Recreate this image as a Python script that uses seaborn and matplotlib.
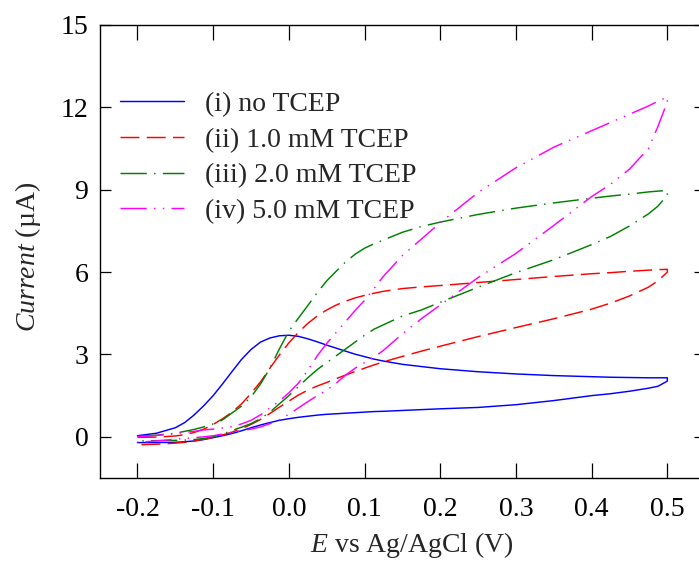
import numpy as np
import pandas as pd
import matplotlib
matplotlib.use("Agg")
import matplotlib.pyplot as plt
import seaborn as sns

# Potential grid (V vs Ag/AgCl) shared by both sweep directions
E_grid = [-0.2, -0.175, -0.15, -0.1375, -0.125, -0.1125, -0.1, -0.0875, -0.075,
          -0.0625, -0.05, -0.0375, -0.025, -0.0125, 0.0, 0.0125, 0.025, 0.0375,
          0.05, 0.0625, 0.075, 0.0875, 0.1, 0.1125, 0.125, 0.15, 0.175, 0.2,
          0.25, 0.3, 0.35, 0.4, 0.425, 0.45, 0.475, 0.4875, 0.5]

labels = ["(i) no TCEP", "(ii) 1.0 mM TCEP", "(iii) 2.0 mM TCEP", "(iv) 5.0 mM TCEP"]

# Anodic (forward) sweep currents in µA, one value per E_grid point
fwd_i = [0.04, 0.13, 0.33, 0.52, 0.8, 1.13, 1.5, 1.93, 2.38,
         2.82, 3.18, 3.45, 3.6, 3.68, 3.7, 3.66, 3.57, 3.46,
         3.34, 3.23, 3.12, 3.01, 2.92, 2.83, 2.76, 2.64, 2.56, 2.48,
         2.37, 2.29, 2.23, 2.19, 2.17, 2.16, 2.15, 2.15, 2.15]
fwd_ii = [-0.02, -0.01, 0.03, 0.08, 0.16, 0.28, 0.45, 0.66, 0.9,
          1.2, 1.58, 2.0, 2.5, 2.98, 3.42, 3.8, 4.13, 4.4,
          4.62, 4.8, 4.94, 5.06, 5.15, 5.23, 5.3, 5.4, 5.46, 5.51,
          5.62, 5.73, 5.84, 5.94, 5.98, 6.03, 6.07, 6.09, 6.1]
fwd_iii = [0.02, 0.06, 0.13, 0.2, 0.27, 0.36, 0.47, 0.62, 0.87,
           1.12, 1.45, 1.92, 2.5, 3.2, 3.85, 4.32, 4.78, 5.25,
           5.68, 6.03, 6.37, 6.65, 6.87, 7.03, 7.17, 7.45, 7.66, 7.82,
           8.1, 8.33, 8.52, 8.69, 8.77, 8.84, 8.92, 8.95, 8.97]
fwd_iv = [0.0, 0.05, 0.12, 0.16, 0.2, 0.25, 0.28, 0.32, 0.37,
          0.47, 0.6, 0.8, 1.05, 1.3, 1.6, 1.95, 2.42, 2.95,
          3.4, 3.8, 4.2, 4.6, 4.97, 5.4, 5.85, 6.6, 7.2, 7.8,
          8.9, 9.8, 10.55, 11.15, 11.45, 11.75, 12.05, 12.22, 12.38]

# Cathodic (reverse) sweep currents in µA, listed from -0.2 V upward
rev_i = [-0.21, -0.21, -0.2, -0.18, -0.15, -0.1, -0.03, 0.04, 0.12,
         0.22, 0.33, 0.43, 0.52, 0.6, 0.66, 0.71, 0.75, 0.79,
         0.82, 0.84, 0.86, 0.88, 0.9, 0.92, 0.93, 0.96, 0.99, 1.02,
         1.07, 1.17, 1.32, 1.5, 1.57, 1.66, 1.77, 1.84, 2.03]
rev_ii = [-0.29, -0.27, -0.23, -0.2, -0.15, -0.09, -0.02, 0.07, 0.17,
          0.3, 0.45, 0.63, 0.85, 1.08, 1.3, 1.52, 1.7, 1.85,
          1.98, 2.12, 2.25, 2.38, 2.5, 2.62, 2.73, 2.93, 3.12, 3.3,
          3.65, 3.98, 4.3, 4.65, 4.87, 5.13, 5.45, 5.68, 6.0]
rev_iii = [-0.15, -0.14, -0.13, -0.12, -0.1, -0.06, 0.0, 0.1, 0.23,
           0.35, 0.48, 0.66, 0.9, 1.2, 1.5, 1.82, 2.15, 2.45,
           2.7, 2.95, 3.2, 3.45, 3.7, 3.92, 4.08, 4.4, 4.62, 4.9,
           5.45, 5.98, 6.45, 7.0, 7.3, 7.68, 8.12, 8.4, 8.8]
rev_iv = [-0.2, -0.15, -0.09, -0.06, -0.03, 0.0, 0.04, 0.1, 0.17,
          0.23, 0.28, 0.36, 0.48, 0.62, 0.82, 1.05, 1.28, 1.5,
          1.7, 1.95, 2.25, 2.5, 2.7, 2.9, 3.15, 3.75, 4.3, 4.8,
          5.8, 6.68, 7.7, 8.75, 9.2, 9.75, 10.5, 11.3, 12.2]

forward = [fwd_i, fwd_ii, fwd_iii, fwd_iv]
reverse = [rev_i, rev_ii, rev_iii, rev_iv]

# One closed voltammogram per concentration: forward sweep, then back to -0.2 V
frames = []
for lab, f, r in zip(labels, forward, reverse):
    E = list(E_grid) + list(E_grid[::-1])
    I = list(f) + list(r[::-1])
    frames.append(pd.DataFrame({"E": E, "I": I, "label": lab}))
df = pd.concat(frames, ignore_index=True)

sns.set_theme(style="ticks")
plt.rcParams["font.family"] = ["Liberation Serif", "DejaVu Serif"]
plt.rcParams["mathtext.fontset"] = "custom"
plt.rcParams["mathtext.rm"] = "Liberation Serif"
plt.rcParams["mathtext.it"] = "Liberation Serif:italic"

FS = 20

fig = plt.figure(figsize=(6.99, 5.70), dpi=100)
ax = fig.add_axes([99.6 / 699, 1 - 478 / 570, 605.6 / 699, 453 / 570])

palette = {labels[0]: "#0000ff", labels[1]: "#ff0000",
           labels[2]: "#008000", labels[3]: "#ff00ff"}
dashes = {labels[0]: "",
          labels[1]: (13, 5),
          labels[2]: (18, 5, 1, 5),
          labels[3]: (18, 5, 1, 5, 1, 5)}

sns.lineplot(data=df, x="E", y="I", hue="label", style="label",
             hue_order=labels, style_order=labels, palette=palette,
             dashes=dashes, sort=False, estimator=None, units="label",
             linewidth=1.05, ax=ax)

ax.set_xlim(-0.25, 0.55)
ax.set_ylim(-1.5, 15)
ax.set_xticks([-0.2, -0.1, 0.0, 0.1, 0.2, 0.3, 0.4, 0.5])
ax.set_xticklabels(["-0.2", "-0.1", "0.0", "0.1", "0.2", "0.3", "0.4", "0.5"])
ax.set_yticks([0, 3, 6, 9, 12, 15])

ax.tick_params(axis="x", direction="in", top=True, bottom=True, length=11,
               width=0.9, labelsize=FS, pad=13.5, colors="black")
ax.tick_params(axis="y", direction="in", left=True, right=True, length=8,
               width=0.9, labelsize=FS, pad=8, colors="black")
for s in ax.spines.values():
    s.set_linewidth(1.0)
    s.set_color("black")

ax.set_xlabel(r"$E$ vs Ag/AgCl (V)", fontsize=FS)
ax.set_ylabel(r"$Current$ (µA)", fontsize=FS)
ax.xaxis.set_label_coords((412 - 99.6) / 605.6, (478 - 545) / 453)
ax.yaxis.set_label_coords((28 - 99.6) / 605.6, (478 - 257) / 453)
ax.xaxis.label.set_va("center")
ax.yaxis.label.set_va("center")

sns.move_legend(ax, loc="upper left", bbox_to_anchor=((120 - 99.6) / 605.6, (478 - 91.5) / 453),
                frameon=False, title=None, fontsize=FS, handlelength=2.3,
                handletextpad=0.75, labelspacing=0.37, borderpad=0, borderaxespad=0)

fig.savefig("out.png", dpi=100)
